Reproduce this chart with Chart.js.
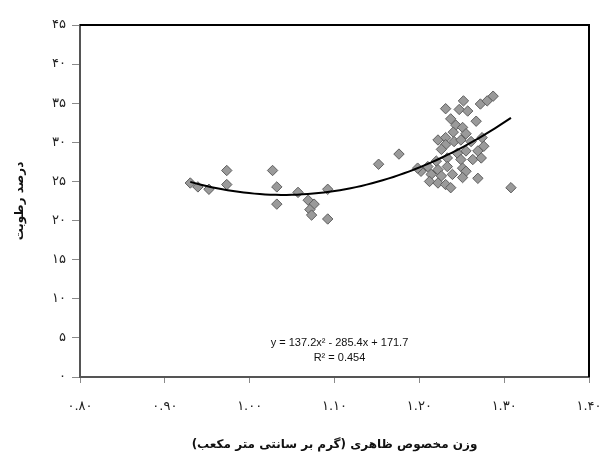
<!DOCTYPE html>
<html>
<head>
<meta charset="utf-8">
<script src="https://cdn.jsdelivr.net/npm/chart.js@4"></script>
<style>
  html, body { margin: 0; padding: 0; background: #fff; }
  #c { display: block; }
</style>
</head>
<body>
<canvas id="c" width="601" height="459"></canvas>
<script>
// ---- data ----
const densityX = [
  0.930, 0.939, 0.952, 0.973, 0.973, 1.027, 1.032, 1.032, 1.057, 1.069,
  1.076, 1.071, 1.073, 1.092, 1.092, 1.152, 1.176,
  1.231, 1.252, 1.247, 1.257, 1.272, 1.280, 1.287, 1.237, 1.267, 1.243,
  1.251, 1.240, 1.255, 1.222, 1.231, 1.231, 1.241, 1.249, 1.261, 1.274,
  1.276, 1.269, 1.255, 1.245, 1.226, 1.220, 1.233, 1.249, 1.263, 1.273,
  1.210, 1.222, 1.233, 1.251, 1.202, 1.214, 1.226, 1.239, 1.255, 1.212,
  1.222, 1.231, 1.237, 1.251, 1.269, 1.308, 1.198
];
const moistureY = [
  24.8, 24.3, 24.0, 26.4, 24.6, 26.4, 24.3, 22.1, 23.6, 22.6,
  22.1, 21.4, 20.7, 24.0, 20.2, 27.2, 28.5,
  34.3, 35.3, 34.2, 34.0, 34.9, 35.3, 35.9, 33.0, 32.7, 32.2,
  31.9, 31.3, 31.1, 30.3, 30.6, 29.7, 30.1, 30.3, 30.1, 30.6,
  29.5, 28.9, 28.9, 28.6, 29.1, 27.6, 28.0, 27.8, 27.8, 28.0,
  26.9, 26.5, 26.9, 26.7, 26.3, 25.9, 25.7, 25.9, 26.3, 25.0,
  24.8, 24.6, 24.2, 25.5, 25.4, 24.2, 26.7
];
// polynomial trendline coefficients shown on the chart (a*x^2 + b*x + c)
const trendCoef = [137.2, -285.4, 171.7];
const trendText = ['y = 137.2x\u00B2 - 285.4x + 171.7', 'R\u00B2 = 0.454'];

const yTickLabels = ['۰','۵','۱۰','۱۵','۲۰','۲۵','۳۰','۳۵','۴۰','۴۵'];
const xTickLabels = ['۰.۸۰','۰.۹۰','۱.۰۰','۱.۱۰','۱.۲۰','۱.۳۰','۱.۴۰'];
const xTitle = 'وزن مخصوص ظاهری (گرم بر سانتی متر مکعب)';
const yTitle = 'درصد رطوبت';

// ---- build datasets ----
const scatterPts = densityX.map((x, i) => ({ x: x, y: moistureY[i] }));
const xMin = Math.min(...densityX), xMax = Math.max(...densityX);
const trendPts = [];
const nSteps = 60;
for (let i = 0; i <= nSteps; i++) {
  const x = xMin + (xMax - xMin) * i / nSteps;
  trendPts.push({ x: x, y: trendCoef[0] * x * x + trendCoef[1] * x + trendCoef[2] });
}

const framePlugin = {
  id: 'frameAndEq',
  afterDatasetsDraw(chart) {
    const { ctx, chartArea: a } = chart;
    ctx.save();
    ctx.strokeStyle = '#000';
    ctx.lineWidth = 2;
    ctx.beginPath();
    ctx.moveTo(a.left, a.top);
    ctx.lineTo(a.right, a.top);
    ctx.lineTo(a.right, a.bottom);
    ctx.stroke();
    // equation
    ctx.direction = 'ltr';
    ctx.fillStyle = '#111';
    ctx.font = '11px "Liberation Sans", Arial, sans-serif';
    ctx.textAlign = 'center';
    ctx.textBaseline = 'middle';
    const cx = chart.scales.x.getPixelForValue(1.10);
    ctx.fillText(trendText[0], cx + 5, 343);
    ctx.fillText(trendText[1], cx + 5, 358);
    ctx.restore();
  }
};

new Chart(document.getElementById('c'), {
  type: 'scatter',
  data: {
    datasets: [
      {
        type: 'line',
        label: 'trend',
        data: trendPts,
        borderColor: '#000',
        borderWidth: 2,
        pointRadius: 0,
        fill: false,
        tension: 0,
        order: 0
      },
      {
        label: 'data',
        data: scatterPts,
        pointStyle: 'rectRot',
        pointRadius: 5.2,
        backgroundColor: '#9a9a9a',
        borderColor: '#5e5e5e',
        borderWidth: 1,
        order: 1
      }
    ]
  },
  options: {
    responsive: false,
    animation: false,
    devicePixelRatio: 1,
    layout: { autoPadding: false, padding: { top: 25, right: 12, left: 0, bottom: 0 } },
    plugins: { legend: { display: false }, tooltip: { enabled: false } },
    scales: {
      x: {
        type: 'linear',
        min: 0.8,
        max: 1.4,
        afterFit(s) { s.height = 82; s.paddingLeft = 0; s.paddingRight = 0; },
        afterBuildTicks(s) {
          s.ticks = xTickLabels.map((_, i) => ({ value: 0.8 + i * 0.1 }));
        },
        ticks: {
          callback: (v) => xTickLabels[Math.round((v - 0.8) / 0.1)],
          font: { family: '"DejaVu Sans", sans-serif', size: 13 },
          color: '#222',
          padding: 16,
          maxRotation: 0
        },
        grid: { drawOnChartArea: false, drawTicks: true, tickLength: 6, color: '#8a8a8a', lineWidth: 1 },
        border: { display: true, color: '#555', width: 2 },
        title: {
          display: true,
          text: '\u202B' + xTitle + '\u202C',
          font: { family: '"DejaVu Sans", sans-serif', size: 12, weight: 'bold' },
          color: '#111',
          padding: { top: 0, bottom: 7 }
        }
      },
      y: {
        min: 0,
        max: 45,
        afterFit(s) { s.width = 80; s.paddingTop = 0; s.paddingBottom = 0; },
        afterBuildTicks(s) {
          s.ticks = yTickLabels.map((_, i) => ({ value: i * 5 }));
        },
        ticks: {
          callback: (v) => yTickLabels[Math.round(v / 5)],
          font: { family: '"DejaVu Sans", sans-serif', size: 13 },
          color: '#222',
          padding: 6
        },
        grid: { drawOnChartArea: false, drawTicks: true, tickLength: 8, color: '#8a8a8a', lineWidth: 1 },
        border: { display: true, color: '#555', width: 2 },
        title: {
          display: true,
          text: '\u202B' + yTitle + '\u202C',
          font: { family: '"DejaVu Sans", sans-serif', size: 12, weight: 'bold' },
          color: '#111',
          padding: { top: 13, bottom: 0 }
        }
      }
    }
  },
  plugins: [framePlugin]
});
</script>
</body>
</html>
